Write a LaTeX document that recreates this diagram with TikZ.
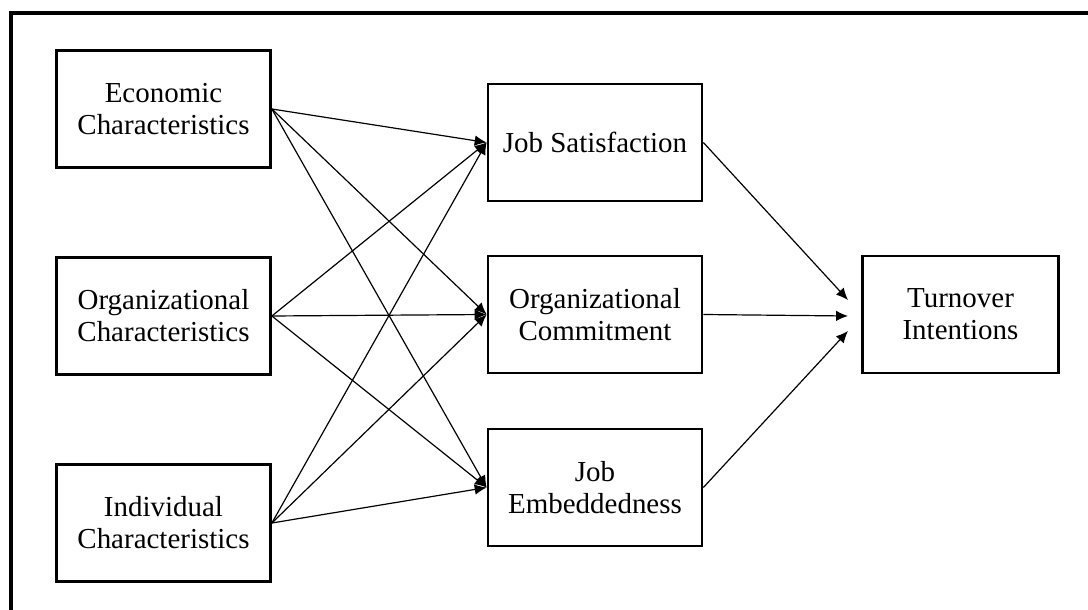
\documentclass[tikz,border=0pt]{standalone}
\usepackage{fontspec}
\setmainfont{Liberation Serif}
\usetikzlibrary{arrows.meta,positioning}

\tikzset{
  block/.style={draw, line width=1.9pt, minimum width=5.35cm, minimum height=2.93cm,
    align=center, inner sep=0pt, font=\fontsize{20.6}{22.8}\selectfont},
  link/.style={-{Latex[length=8.5pt,width=7.5pt]}, line width=0.85pt},
}

\begin{document}
\begin{tikzpicture}[x=0.025cm, y=-0.025cm]
    % page, with the outer frame running off the right and bottom
    \clip (0,0) rectangle (1088,610);
    \draw[line width=3pt] (11,13) rectangle (1120,640);

    % antecedents
    \node[block] (econ)  at (163.5,109) {Economic\\Characteristics};
    \node[block] (org)   at (163.5,316) {Organizational\\Characteristics};
    \node[block] (indiv) at (163.5,523) {Individual\\Characteristics};

    % mediators
    \node[block] (sat)    at (595,142.5) {Job Satisfaction};
    \node[block] (commit) at (595,314.5) {Organizational\\Commitment};
    \node[block] (embed)  at (595,487.5) {Job\\Embeddedness};

    % outcome
    \node[block, minimum width=4.9cm] (turn) at (960.5,314.5) {Turnover\\Intentions};
    \coordinate (t1) at (848,300);
    \coordinate (t2) at (848,316);
    \coordinate (t3) at (848,331);

    % every antecedent to every mediator
    \foreach \a in {econ,org,indiv}
      \foreach \m in {sat,commit,embed}
        \draw[link] (\a.east) -- (\m.west);

    % mediators to turnover
    \draw[link] (sat.east) -- (t1);
    \draw[link] (commit.east) -- (t2);
    \draw[link] (embed.east) -- (t3);
\end{tikzpicture}
\end{document}
